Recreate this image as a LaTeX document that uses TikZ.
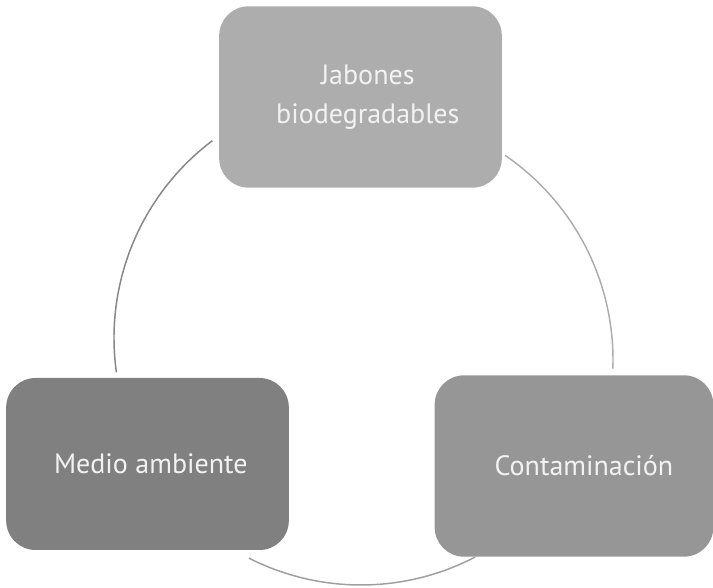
\documentclass[tikz,border=0pt]{standalone}
\usepackage{fontspec}
\setmainfont{PT Sans}
\usepackage{tikz}
\usetikzlibrary{positioning,calc}

\definecolor{boxtop}{HTML}{ADADAD}
\definecolor{boxleft}{HTML}{808080}
\definecolor{boxright}{HTML}{969696}
\definecolor{boxtext}{HTML}{F2F2F2}

\begin{document}
\begin{tikzpicture}[
        x=0.75pt, y=0.75pt,
        every node/.style={align=center, font=\fontsize{21}{29}\selectfont, text=boxtext},
        cyclebox/.style={rectangle, draw=none, minimum width=212pt, minimum height=136pt, rounded corners=22pt, inner sep=0pt},
        jabones/.style={cyclebox, fill=boxtop},
        medio/.style={cyclebox, fill=boxleft, minimum height=129pt},
        contam/.style={cyclebox, fill=boxright, minimum width=209pt},
        ring/.style={line width=1.1pt}
    ]
        \useasboundingbox (0,0) rectangle (713,588);

        % Nodes
        \node[jabones] (jab) at (360.5,491) {\hspace*{11pt}Jabones\\\hspace*{11pt}biodegradables};
        \node[medio] (med) at (147.5,124) {\hspace*{5pt}Medio ambiente};
        \node[contam] (con) at (574,122) {\hspace*{15pt}Contaminación};

        % Cycle
        \coordinate (ctr) at (361,250);
        \coordinate (ctrr) at (365,228);
        \draw[ring, gray!95] ($(ctr)+(127:247)$) arc[start angle=127, end angle=188, radius=247];
        \draw[ring, gray!75] ($(ctr)+(243:247)$) arc[start angle=243, end angle=297.5, radius=247];
        \draw[ring, gray!65] ($(ctrr)+(-2:248)$) arc[start angle=-2, end angle=55.6, radius=248];

    \end{tikzpicture}
\end{document}
